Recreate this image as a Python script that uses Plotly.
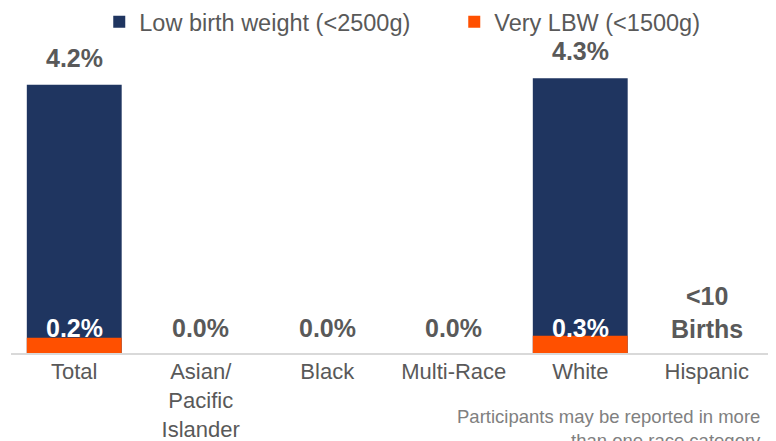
import plotly.graph_objects as go

categories = ["Total", "Asian/<br>Pacific<br>Islander", "Black", "Multi-Race", "White", "Hispanic"]
lbw_values = [4.2, 0.0, 0.0, 0.0, 4.3, None]
vlbw_values = [0.24, 0.0, 0.0, 0.0, 0.27, None]
lbw_labels = ["4.2%", "", "", "", "4.3%", ""]
vlbw_labels = ["0.2%", "0.0%", "0.0%", "0.0%", "0.3%", "<10<br>Births"]
series_names = ["Low birth weight (<2500g)", "Very LBW (<1500g)"]
footnote = "Participants may be reported in more<br>than one race category"

NAVY = "#1F3560"
ORANGE = "#FF5000"
GRAY = "#595959"
FONT = "Liberation Sans"

fig = go.Figure()
fig.add_trace(go.Bar(x=categories, y=lbw_values, name=series_names[0],
                     marker=dict(color=NAVY, line=dict(width=0)), width=0.75))
fig.add_trace(go.Bar(x=categories, y=vlbw_values, name=series_names[1],
                     marker=dict(color=ORANGE, line=dict(width=0)), width=0.75))

annotations = []
for cat, v, lab in zip(categories, lbw_values, lbw_labels):
    if lab:
        annotations.append(dict(x=cat, y=v, text=f"<b>{lab}</b>", showarrow=False,
                                yanchor="middle", yshift=27,
                                font=dict(size=25, color=GRAY, family=FONT)))
for cat, lv, lab in zip(categories, lbw_values, vlbw_labels):
    inside = lv is not None and lv > 0.5
    multi = "<br>" in lab
    annotations.append(dict(x=cat, y=0, text=f"<b>{lab}</b>", showarrow=False,
                            yanchor="middle", yshift=41 if multi else 25,
                            font=dict(size=25, color="white" if inside else GRAY, family=FONT)))
annotations.append(dict(xref="paper", yref="paper", x=0.991, y=-0.163,
                        xanchor="right", yanchor="top", align="right",
                        text=footnote, showarrow=False,
                        font=dict(size=18.5, color="#808080", family=FONT)))

fig.update_layout(
    width=768, height=433,
    margin=dict(l=3, r=6, t=32, b=88, autoexpand=False),
    paper_bgcolor="white", plot_bgcolor="white",
    barmode="overlay",
    showlegend=True,
    legend=dict(orientation="h", x=0.584, xanchor="center", y=1.0575, yanchor="middle",
                font=dict(size=23.5, color=GRAY, family=FONT), itemclick=False,
                entrywidth=310, bgcolor="rgba(0,0,0,0)"),
    font=dict(family=FONT, color=GRAY),
    annotations=annotations,
)
fig.update_xaxes(showline=True, linecolor="#D9D9D9", linewidth=2, automargin=False,
                 tickfont=dict(size=22, color=GRAY, family=FONT), ticklabelstandoff=-2,
                 ticks="", showgrid=False)
fig.update_yaxes(range=[0, 4.9], visible=False, showgrid=False, automargin=False)

fig.write_html("out.html")
